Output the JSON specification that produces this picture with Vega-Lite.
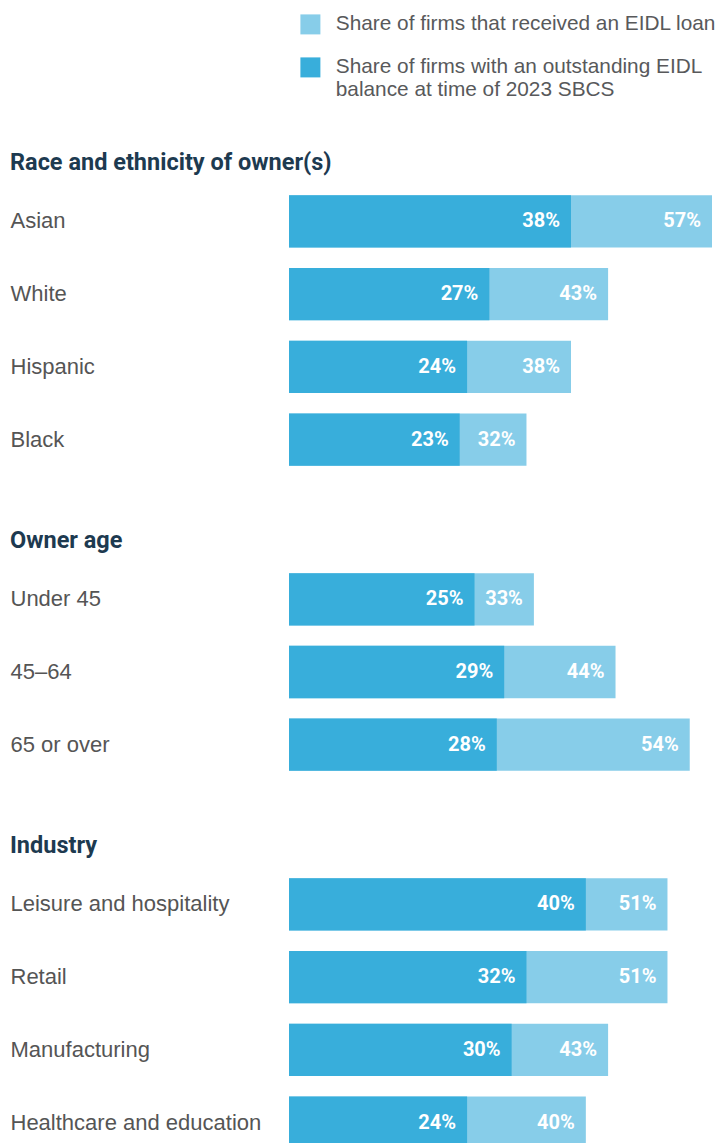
{
  "$schema": "https://vega.github.io/schema/vega-lite/v6.json",
  "background": "white",
  "padding": {"left": 10, "top": 14, "right": 0, "bottom": 0},
  "config": {
    "view": {"stroke": null},
    "font": "Liberation Sans",
    "concat": {"spacing": 52},
    "axis": {"grid": false}
  },
  "data": {
    "values": [
      {"group": "race", "category": "Asian", "measure": "Share of firms that received an EIDL loan", "value": 0.57},
      {"group": "race", "category": "White", "measure": "Share of firms that received an EIDL loan", "value": 0.43},
      {"group": "race", "category": "Hispanic", "measure": "Share of firms that received an EIDL loan", "value": 0.38},
      {"group": "race", "category": "Black", "measure": "Share of firms that received an EIDL loan", "value": 0.32},
      {"group": "age", "category": "Under 45", "measure": "Share of firms that received an EIDL loan", "value": 0.33},
      {"group": "age", "category": "45–64", "measure": "Share of firms that received an EIDL loan", "value": 0.44},
      {"group": "age", "category": "65 or over", "measure": "Share of firms that received an EIDL loan", "value": 0.54},
      {"group": "industry", "category": "Leisure and hospitality", "measure": "Share of firms that received an EIDL loan", "value": 0.51},
      {"group": "industry", "category": "Retail", "measure": "Share of firms that received an EIDL loan", "value": 0.51},
      {"group": "industry", "category": "Manufacturing", "measure": "Share of firms that received an EIDL loan", "value": 0.43},
      {"group": "industry", "category": "Healthcare and education", "measure": "Share of firms that received an EIDL loan", "value": 0.40},
      {"group": "race", "category": "Asian", "measure": "Share of firms with an outstanding EIDL balance at time of 2023 SBCS", "value": 0.38},
      {"group": "race", "category": "White", "measure": "Share of firms with an outstanding EIDL balance at time of 2023 SBCS", "value": 0.27},
      {"group": "race", "category": "Hispanic", "measure": "Share of firms with an outstanding EIDL balance at time of 2023 SBCS", "value": 0.24},
      {"group": "race", "category": "Black", "measure": "Share of firms with an outstanding EIDL balance at time of 2023 SBCS", "value": 0.23},
      {"group": "age", "category": "Under 45", "measure": "Share of firms with an outstanding EIDL balance at time of 2023 SBCS", "value": 0.25},
      {"group": "age", "category": "45–64", "measure": "Share of firms with an outstanding EIDL balance at time of 2023 SBCS", "value": 0.29},
      {"group": "age", "category": "65 or over", "measure": "Share of firms with an outstanding EIDL balance at time of 2023 SBCS", "value": 0.28},
      {"group": "industry", "category": "Leisure and hospitality", "measure": "Share of firms with an outstanding EIDL balance at time of 2023 SBCS", "value": 0.40},
      {"group": "industry", "category": "Retail", "measure": "Share of firms with an outstanding EIDL balance at time of 2023 SBCS", "value": 0.32},
      {"group": "industry", "category": "Manufacturing", "measure": "Share of firms with an outstanding EIDL balance at time of 2023 SBCS", "value": 0.30},
      {"group": "industry", "category": "Healthcare and education", "measure": "Share of firms with an outstanding EIDL balance at time of 2023 SBCS", "value": 0.24}
    ]
  },
  "vconcat": [
    {
      "title": {"text": "Race and ethnicity of owner(s)", "anchor": "start", "frame": "bounds", "font": "Roboto", "fontWeight": "bold", "fontSize": 23.5, "color": "#1d3a50", "baseline": "alphabetic", "offset": -8},
      "width": 423, "height": 291,
      "transform": [{"filter": "datum.group == 'race'"}],
      "encoding": {
        "y": {"field": "category", "type": "nominal", "sort": ["Asian", "White", "Hispanic", "Black"],
              "scale": {"paddingInner": 0.28, "paddingOuter": 0.14},
              "axis": {"title": null, "domain": false, "ticks": false, "tickSize": 0, "labelAlign": "left", "labelPadding": 279, "labelLimit": 300, "labelFontSize": 22, "labelColor": "#555555", "labelFont": "Liberation Sans"}},
        "x": {"field": "value", "type": "quantitative", "stack": null, "scale": {"domain": [0, 0.57]}, "axis": null}
      },
      "layer": [
        {"mark": {"type": "bar"},
         "encoding": {"color": {"field": "measure", "type": "nominal",
            "scale": {"domain": ["Share of firms that received an EIDL loan", "Share of firms with an outstanding EIDL balance at time of 2023 SBCS"], "range": ["#87cde9", "#38aedb"]},
            "legend": {"title": null, "orient": "none", "legendX": 11, "legendY": -171, "direction": "vertical", "symbolType": "square", "symbolSize": 400, "symbolStrokeWidth": 0, "symbolOpacity": 1, "labelFontSize": 20.8, "labelColor": "#58595b", "labelFont": "Liberation Sans", "labelOffset": 15, "labelLimit": 500, "rowPadding": 21, "padding": 0,
              "labelExpr": "datum.label == 'Share of firms that received an EIDL loan' ? datum.label : ['Share of firms with an outstanding EIDL', 'balance at time of 2023 SBCS']"}}}},
        {"mark": {"type": "text", "align": "right", "dx": -11, "font": "Roboto", "fontWeight": "bold", "fontSize": 20, "color": "white"},
         "encoding": {"text": {"field": "value", "type": "quantitative", "format": ".0%"}}}
      ]
    },
    {
      "title": {"text": "Owner age", "anchor": "start", "frame": "bounds", "font": "Roboto", "fontWeight": "bold", "fontSize": 23.5, "color": "#1d3a50", "baseline": "alphabetic", "offset": -8},
      "width": 423, "height": 218,
      "transform": [{"filter": "datum.group == 'age'"}],
      "encoding": {
        "y": {"field": "category", "type": "nominal", "sort": ["Under 45", "45–64", "65 or over"],
              "scale": {"paddingInner": 0.28, "paddingOuter": 0.14},
              "axis": {"title": null, "domain": false, "ticks": false, "tickSize": 0, "labelAlign": "left", "labelPadding": 279, "labelLimit": 300, "labelFontSize": 22, "labelColor": "#555555", "labelFont": "Liberation Sans"}},
        "x": {"field": "value", "type": "quantitative", "stack": null, "scale": {"domain": [0, 0.57]}, "axis": null}
      },
      "layer": [
        {"mark": {"type": "bar"},
         "encoding": {"color": {"field": "measure", "type": "nominal"}}},
        {"mark": {"type": "text", "align": "right", "dx": -11, "font": "Roboto", "fontWeight": "bold", "fontSize": 20, "color": "white"},
         "encoding": {"text": {"field": "value", "type": "quantitative", "format": ".0%"}}}
      ]
    },
    {
      "title": {"text": "Industry", "anchor": "start", "frame": "bounds", "font": "Roboto", "fontWeight": "bold", "fontSize": 23.5, "color": "#1d3a50", "baseline": "alphabetic", "offset": -8},
      "width": 423, "height": 291,
      "transform": [{"filter": "datum.group == 'industry'"}],
      "encoding": {
        "y": {"field": "category", "type": "nominal", "sort": ["Leisure and hospitality", "Retail", "Manufacturing", "Healthcare and education"],
              "scale": {"paddingInner": 0.28, "paddingOuter": 0.14},
              "axis": {"title": null, "domain": false, "ticks": false, "tickSize": 0, "labelAlign": "left", "labelPadding": 279, "labelLimit": 300, "labelFontSize": 22, "labelColor": "#555555", "labelFont": "Liberation Sans"}},
        "x": {"field": "value", "type": "quantitative", "stack": null, "scale": {"domain": [0, 0.57]}, "axis": null}
      },
      "layer": [
        {"mark": {"type": "bar"},
         "encoding": {"color": {"field": "measure", "type": "nominal"}}},
        {"mark": {"type": "text", "align": "right", "dx": -11, "font": "Roboto", "fontWeight": "bold", "fontSize": 20, "color": "white"},
         "encoding": {"text": {"field": "value", "type": "quantitative", "format": ".0%"}}}
      ]
    }
  ],
  "resolve": {"scale": {"color": "shared", "x": "independent", "y": "independent"}}
}
